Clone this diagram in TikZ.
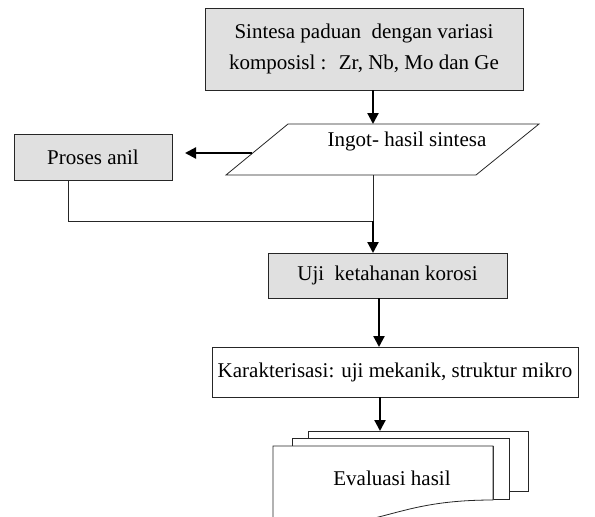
\documentclass[tikz,border=0pt]{standalone}
\usepackage{fontspec}
\setmainfont{Liberation Serif}
\usetikzlibrary{arrows.meta}
\tikzset{
  box/.style={draw=black!85, line width=0.8pt, inner sep=0pt, font=\fontsize{21}{31}\selectfont, align=center},
  grey/.style={fill=black!12},
  txt/.style={inner sep=0pt, font=\fontsize{21}{31}\selectfont},
  thin/.style={draw=black!85, line width=0.8pt},
  arr/.style={line width=2.2pt, -{Triangle[length=11pt,width=11pt]}},
}
\begin{document}
\begin{tikzpicture}[x=1pt,y=-1pt]
\useasboundingbox (0,0) rectangle (595,517);
\clip (0,0) rectangle (595,517);
% top box
\node[box,grey,minimum width=318pt,minimum height=82pt] (sint) at (364,49) {Sintesa paduan \ dengan variasi\\komposisl : \ Zr, Nb, Mo dan Ge};
% parallelogram
\coordinate (p1) at (288,124);
\coordinate (p2) at (539,124);
\coordinate (p3) at (476,175);
\coordinate (p4) at (226,175);
\draw[thin] (p1) -- (p2) -- (p3) -- (p4) -- cycle;
\node[txt] (ingot) at (407,141) {Ingot- hasil sintesa};
% anil
\node[box,grey,minimum width=158pt,minimum height=46pt] (anil) at (93,157) {Proses anil};
% uji
\node[box,grey,minimum width=239pt,minimum height=45pt] (uji) at (387.5,275.5) {Uji \ ketahanan korosi};
% karakterisasi
\node[box,fill=white,minimum width=366pt,minimum height=50pt] (kar) at (395,372) {Karakterisasi: uji mekanik, struktur mikro};
% document stack
\draw[thin,fill=white] (308,438) -- (308,431) -- (528,431) -- (528,491) -- (509,491) -- (509,438) -- cycle;
\draw[thin,fill=white] (292,446) -- (292,438) -- (509,438) -- (509,499) -- (493,499) -- (493,446) -- cycle;
\draw[thin,fill=white] (273,446) -- (493,446) -- (493,500) .. controls (383,500) and (383,535) .. (273,522) -- cycle;
\node[txt] (eval) at (392,478) {Evaluasi hasil};
% connectors
\coordinate (a1) at (373,90);
\coordinate (a2) at (373,124);
\draw[arr] (a1) -- (a2);
\coordinate (b1) at (252,153);
\coordinate (b2) at (185,153);
\draw[arr] (b1) -- (b2);
\coordinate (c0) at (373,175);
\coordinate (j) at (373,221);
\coordinate (c1) at (68,180);
\coordinate (c2) at (68,221);
\draw[thin] (c0) -- (j);
\draw[thin] (c1) -- (c2) -- (j);
\coordinate (u1) at (373,253);
\draw[arr] (j) -- (u1);
\coordinate (d1) at (379,298);
\coordinate (d2) at (379,347);
\draw[arr] (d1) -- (d2);
\coordinate (e1) at (380,397);
\coordinate (e2) at (380,431);
\draw[arr] (e1) -- (e2);
\end{tikzpicture}
\end{document}
